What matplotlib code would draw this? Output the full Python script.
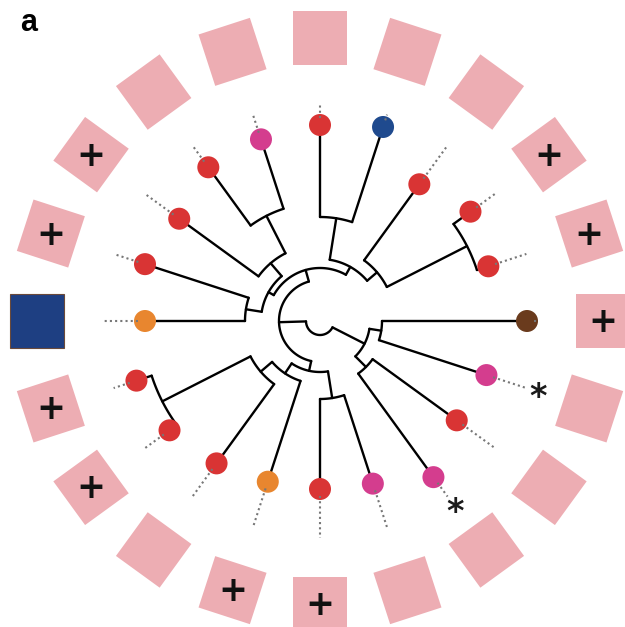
import numpy as np
import matplotlib
matplotlib.use('Agg')
import matplotlib.pyplot as plt
from matplotlib.patches import Circle, Polygon

# ------------------------------------------------------------
# data
# ------------------------------------------------------------
# tips in circular order, starting just above 3 o'clock, counter-clockwise
tip_radius = [177, 186, 169, 204, 196, 191, 190, 174, 184, 175,
              193, 186, 176, 169, 168, 171, 193, 169, 175, 207]
tip_color = ['red', 'red', 'red', 'blue', 'red', 'pink', 'red', 'red', 'red', 'orange',
             'red', 'red', 'red', 'orange', 'red', 'pink', 'pink', 'red', 'pink', 'brown']
star_tips = [16, 18]

# outer ring of squares (same order as the tips)
square_fill = ['pink'] * 9 + ['blue'] + ['pink'] * 10
square_mark = ['+', '+', '', '', '', '', '', '+', '+', '',
               '+', '+', '', '+', '+', '', '', '', '', '+']

# tree: internal node -> children (int = tip index, str = node)
node_children = {
    'R': ['A', 'B'],
    'A': ['Aup', 'Alow'],
    'Aup': ['K', 'T'],
    'K': ['F', 'L'],
    'F': [8, 9],
    'L': [7, 'N'],
    'N': [5, 6],
    'T': ['G', 'J'],
    'G': [3, 4],
    'J': [2, 'I'],
    'I': [0, 1],
    'Alow': ['S', 'E'],
    'S': ['Q', 13],
    'Q': ['P', 12],
    'P': [10, 11],
    'E': [14, 15],
    'B': ['C', 'D'],
    'C': [18, 19],
    'D': [16, 17],
}
node_radius = {'R': 14, 'A': 41, 'Aup': 53, 'K': 59, 'F': 75, 'L': 76, 'N': 118,
               'T': 62, 'G': 104, 'J': 75, 'I': 165, 'Alow': 51, 'S': 63, 'Q': 78,
               'P': 177, 'E': 78, 'B': 50, 'C': 62, 'D': 65}

COLORS = {'red': '#D93434', 'pink': '#D43D8E', 'blue': '#1F4A8E',
          'orange': '#E8862F', 'brown': '#6A3B1D'}
SQ_COLORS = {'pink': '#EDADB3', 'blue': '#1E3F82'}

# ------------------------------------------------------------
# layout
# ------------------------------------------------------------
W, H = 625, 627
CX, CY = 320, 321
N_TIPS = len(tip_radius)
START = 18.0
DOT_R = 11
DOTTED_END = 217
SQ_RING = 283
SQ_SIDE = 54


def tip_angle(i):
    return START + 360.0 * i / N_TIPS


def xy(deg, r):
    t = np.radians(deg)
    return CX + r * np.cos(t), CY - r * np.sin(t)


def pos(c):
    """angle / radius of a child (tip or node)"""
    if isinstance(c, int):
        return tip_angle(c), tip_radius[c]
    return node_angle(c), node_radius[c]


def node_angle(n):
    angs = [pos(c)[0] for c in node_children[n]]
    return (min(angs) + max(angs)) / 2


fig = plt.figure(figsize=(W / 100, H / 100), dpi=100)
ax = fig.add_axes([0, 0, 1, 1])
ax.set_xlim(0, W)
ax.set_ylim(H, 0)
ax.set_aspect('equal')
ax.axis('off')

LW = 1.7
for n, kids in node_children.items():
    r0 = node_radius[n]
    angs = [pos(c)[0] for c in kids]
    a = np.linspace(min(angs), max(angs), 100)
    x, y = xy(a, r0)
    ax.plot(x, y, color='black', lw=LW, solid_capstyle='round', zorder=2)
    for c in kids:
        ang, r1 = pos(c)
        x0, y0 = xy(ang, r0)
        x1, y1 = xy(ang, r1)
        ax.plot([x0, x1], [y0, y1], color='black', lw=LW,
                solid_capstyle='round', zorder=2)

# tips + dotted extensions
for i in range(N_TIPS):
    ang = tip_angle(i)
    r = tip_radius[i]
    ax.add_patch(Circle(xy(ang, r), DOT_R, facecolor=COLORS[tip_color[i]],
                        edgecolor='none', zorder=3))
    if r + 7 < DOTTED_END:
        x0, y0 = xy(ang, r + 7)
        x1, y1 = xy(ang, DOTTED_END)
        ax.plot([x0, x1], [y0, y1], color='#777777', lw=1.5,
                linestyle=(0, (1, 1.5)), zorder=4)

for i in star_tips:
    sx, sy = xy(tip_angle(i), 229)
    ax.text(sx, sy + 6, '*', fontsize=24, fontweight='bold', ha='center',
            va='center', color='#1a1a1a', zorder=5)

# outer squares
for i in range(N_TIPS):
    ang = tip_angle(i)
    t = np.radians(ang)
    cx, cy = xy(ang, SQ_RING)
    u = np.array([np.cos(t), -np.sin(t)]) * SQ_SIDE / 2
    v = np.array([np.sin(t), np.cos(t)]) * SQ_SIDE / 2
    c = np.array([cx, cy])
    corners = [c + u + v, c + u - v, c - u - v, c - u + v]
    ec = '#6b4a3a' if square_fill[i] == 'blue' else 'none'
    ax.add_patch(Polygon(corners, closed=True, facecolor=SQ_COLORS[square_fill[i]],
                         edgecolor=ec, lw=0.8, zorder=1))
    if square_mark[i]:
        ax.text(cx, cy + 1, square_mark[i], fontsize=25, fontweight='bold',
                ha='center', va='center', color='#111111', zorder=2)

fig.text(20 / W, 1 - 23 / H, 'a', fontsize=22, fontweight='bold',
         family='Liberation Sans', ha='left', va='center')

fig.savefig('out.png', dpi=100)
